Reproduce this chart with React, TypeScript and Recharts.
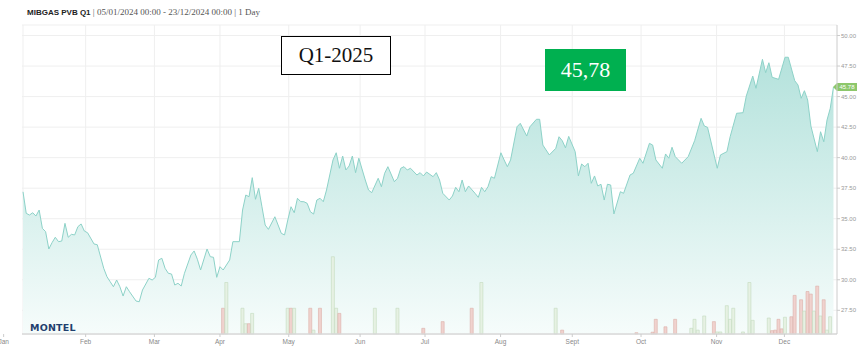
import React from 'react';
import { ComposedChart, Area, Bar, Cell, XAxis, YAxis, CartesianGrid, ReferenceLine } from 'recharts';

// trading-day index (0 = 05/01/2024) and settlement price, EUR/MWh
const priceDays = [
  0, 1, 2, 3, 4, 5, 6, 7, 8, 9, 10, 11, 12, 13, 14, 15, 16, 17, 18, 19, 20, 22, 23, 25, 26, 27, 28, 29, 30,
  31, 32, 33, 35, 36, 37, 39, 40, 41, 42, 43, 44, 45, 46, 47, 48, 49, 50, 52, 53, 54, 55, 57, 58, 59, 60,
  61, 62, 64, 65, 67, 68, 69, 70, 71, 72, 73, 74, 75, 76, 78, 80, 81, 82, 83, 84, 85, 86, 87, 88, 89, 90,
  91, 92, 93, 94, 95, 96, 97, 98, 99, 100, 101, 102, 103, 104, 106, 107, 108, 110, 111, 112, 113, 115,
  116, 117, 118, 119, 120, 122, 123, 124, 125, 127, 128, 129, 130, 132, 133, 134, 135, 136, 137, 138,
  140, 141, 142, 143, 144, 145, 146, 148, 149, 150, 151, 153, 154, 156, 157, 159, 160, 161, 163, 165,
  166, 167, 168, 169, 171, 172, 173, 174, 175, 176, 177, 178, 179, 180, 181, 182, 183, 185, 186, 188,
  189, 191, 192, 194, 195, 196, 198, 199, 200, 201, 202, 204, 206, 208, 210, 211, 212, 215, 216, 218,
  219, 221, 223, 224, 226, 227, 229, 230, 231, 232, 234, 236, 237, 239, 240, 241, 242, 243, 244, 246,
  247, 248, 249, 250, 251,
];
const prices = [
  37.2, 35.44, 35.3, 35.49, 35.22, 35.71, 34.21, 33.94, 32.52, 33.04, 33.48, 33.12, 33.17, 34.62, 33.48,
  33.72, 33.67, 34.35, 34.57, 33.99, 33.85, 32.93, 32.87, 30.94, 30.25, 29.84, 29.43, 29.98, 29.43,
  28.67, 29.43, 29.02, 28.26, 28.2, 29.16, 30.12, 29.98, 30.2, 31.62, 31.76, 30.94, 30.53, 30.47, 29.57,
  29.71, 29.49, 30.53, 32.03, 32.36, 31.68, 30.8, 32.52, 31.89, 31.84, 30.2,
  31.07, 30.8, 31.62, 33.12, 33.12, 35.71, 36.94, 36.8, 38.36, 36.59, 37.49, 35.98, 34.48, 34.13, 35.16,
  33.8, 33.67, 34.89, 35.98, 35.49, 36.67, 36.4, 36.39, 36.26, 35.57, 35.38,
  36.53, 36.67, 36.39, 37.35, 38.58, 39.81, 40.4, 39.13, 40.13, 38.99, 39.32, 40.13, 38.77, 39.95, 38.17,
  37.35, 37.13, 38.31, 37.62, 38.72, 39.26, 38.03,
  38.31, 39.13, 39.26, 38.99, 39.13, 38.58, 38.77, 38.5, 38.82, 38.44, 38.77, 38.17, 37.08, 36.53, 36.86,
  37.57, 37.21, 38.17, 37.21, 37.68,
  37.08, 36.75, 37.57, 37.21, 37.62, 38.44, 38.31, 40.4, 39.81, 39.26, 39.81, 42.53, 42.81, 41.77, 42.53,
  43.14, 43.14, 41.03, 40.22, 40.76,
  41.71, 41.39, 40.8, 41.74, 40.49, 38.5, 39.48, 39.26, 39.54, 37.9, 38.5, 37.68, 37.82, 36.53, 37.82,
  37.76, 35.39, 37.21, 37.08, 38.58,
  38.72, 39.95, 39.54, 41.17, 41.03, 39.81, 39.13, 40.3, 39.95, 40.85, 40.08, 39.54, 40.08, 41.39, 43.22,
  42.59, 42.48, 39.13, 40.22, 40.49,
  41.71, 43.63, 43.68, 45.05, 46.68, 45.68, 48.05, 46.96, 47.77, 46.58, 46.41, 48.22, 48.22, 46.3, 45.95,
  44.86, 45.48, 44.72, 42.59, 40.49,
  42.12, 41.3, 43.08, 44.04, 45.78,
];

// traded volume per day (relative units) and side of the day
const volDays = [
  62, 63, 68, 69, 70, 71, 82, 83, 84, 89, 90, 92, 96, 97, 98, 109, 116, 124, 130, 139, 142, 165, 167,
  190, 195, 196, 199, 202, 207, 208, 209, 211, 214, 215, 216, 218, 219, 220, 223, 225, 226,
  231, 232, 233, 234, 235, 236, 238, 239, 241, 242, 243, 244, 245, 246, 247, 248, 249, 250,
];
const volumes = [
  1, 2, 1, 0.4, 0.4, 0.8, 1, 1, 1, 1, 0.15, 1, 3, 1, 0.8, 1, 1, 0.22, 0.48, 1, 2, 1, 0.15,
  0.05, 0.07, 0.57, 0.28, 0.57, 0.22, 0.57, 0.15, 0.7, 0.48, 0.08, 0.08, 1.1, 0.57, 1, 0.08, 2, 0.53,
  0.62, 0.13, 0.15, 0.57, 0.2, 0.65, 0.67, 1.5, 1.33, 0.89, 1.65, 1.55, 0.89, 1.86, 0.7, 1.33, 0.15, 0.67,
];
const volSides = [
  'r', 'g', 'g', 'g', 'r', 'g', 'g', 'r', 'g', 'r', 'g', 'r', 'g', 'g', 'r', 'g', 'g', 'r', 'r', 'r', 'g', 'g', 'r',
  'r', 'r', 'r', 'r', 'r', 'g', 'g', 'g', 'g', 'r', 'g', 'g', 'g', 'g', 'g', 'g', 'g', 'g',
  'g', 'r', 'r', 'r', 'r', 'g', 'r', 'r', 'r', 'g', 'r', 'r', 'g', 'r', 'g', 'r', 'g', 'g',
];

const monthTicks = [-6, 19.4, 40.7, 61, 82.3, 104.4, 124.5, 147.9, 170.1, 191.4, 214.8, 235.8];
const monthLabels = ['Jan', 'Feb', 'Mar', 'Apr', 'May', 'Jun', 'Jul', 'Aug', 'Sept', 'Oct', 'Nov', 'Dec'];
const priceTicks = [27.5, 30, 32.5, 35, 37.5, 40, 42.5, 45, 47.5, 50];

const titleName = 'MIBGAS PVB Q1';
const titleRange = '| 05/01/2024 00:00 - 23/12/2024 00:00 | 1 Day';
const contractLabel = 'Q1-2025';
const lastPriceLabel = '45,78';
const lastPrice = 45.78;

const X_DOMAIN: [number, number] = [-0.31, 252.09];

type Row = { d: number; price?: number; vol?: number; side?: string };

const rows: Row[] = (() => {
  const m = new Map<number, Row>();
  priceDays.forEach((d, i) => m.set(d, { d, price: prices[i] }));
  volDays.forEach((d, i) => {
    const r = m.get(d) || { d };
    r.vol = volumes[i];
    r.side = volSides[i];
    m.set(d, r);
  });
  return Array.from(m.values()).sort((a, b) => a.d - b.d);
})();

const gridDays = [0, ...monthTicks.filter((t) => t >= 0)];

// map grid days through the same linear x scale as the axis
const verticalGen = (props: any) => {
  const off = (props && props.offset) || {};
  const left = typeof off.left === 'number' ? off.left : 22;
  const width = typeof off.width === 'number' ? off.width : 815;
  const [a, b] = X_DOMAIN;
  return gridDays.map((t) => left + ((t - a) / (b - a)) * width);
};

const PriceTag = (props: any) => {
  const vb = props.viewBox || {};
  const x = (vb.x || 0) + (vb.width || 0);
  const y = vb.y || 0;
  return (
    <g>
      <path d={`M${x - 4},${y} L${x},${y - 4} H${x + 20} V${y + 4} H${x} Z`} fill="#8dc76b" />
      <text x={x + 10} y={y + 2.2} fontSize={6} fill="#ffffff" textAnchor="middle" fontFamily="Liberation Sans, Arial, sans-serif">
        {lastPrice.toFixed(2)}
      </text>
    </g>
  );
};

export default function App() {
  return (
    <div style={{ position: 'absolute', left: 0, top: 0, width: 863, height: 360, background: '#fff', overflow: 'hidden' }}>
      <ComposedChart
        width={863}
        height={360}
        data={rows}
        margin={{ top: 25, right: 0, bottom: 6, left: 22 }}
      >
        <defs>
          <linearGradient id="areaFill" x1="0" y1="0" x2="0" y2="1">
            <stop offset="0%" stopColor="#b4e2dc" />
            <stop offset="100%" stopColor="#f6fcfb" />
          </linearGradient>
        </defs>
        <CartesianGrid yAxisId="price" stroke="#efefef" verticalCoordinatesGenerator={verticalGen} />
        <XAxis
          dataKey="d"
          type="number"
          domain={X_DOMAIN}
          allowDataOverflow
          ticks={monthTicks}
          interval={0}
          tickFormatter={(v: number) => monthLabels[monthTicks.indexOf(v)] || ''}
          tick={{ fontSize: 6.5, fill: '#888', fontFamily: 'Liberation Sans, Arial, sans-serif' }}
          tickLine={{ stroke: '#cccccc' }}
          tickSize={3}
          tickMargin={2}
          axisLine={{ stroke: '#d8d8d8', strokeWidth: 1.5 }}
          height={20}
        />
        <YAxis
          yAxisId="price"
          orientation="right"
          type="number"
          domain={[25.56, 50.86]}
          allowDataOverflow
          ticks={priceTicks}
          interval={0}
          tickFormatter={(v: number) => v.toFixed(2)}
          tick={{ fontSize: 6, fill: '#999', fontFamily: 'Liberation Sans, Arial, sans-serif' }}
          tickLine={{ stroke: '#cccccc' }}
          tickSize={3}
          tickMargin={1}
          axisLine={{ stroke: '#cccccc' }}
          width={26}
        />
        <YAxis yAxisId="vol" hide type="number" domain={[0, 12]} />
        <Area
          yAxisId="price"
          type="linear"
          dataKey="price"
          connectNulls
          stroke="#8dd2c8"
          strokeWidth={1}
          fill="url(#areaFill)"
          fillOpacity={1}
          dot={false}
          activeDot={false}
          isAnimationActive={false}
        />
        <Bar yAxisId="vol" dataKey="vol" barSize={3} isAnimationActive={false}>
          {rows.map((r, i) => (
            <Cell
              key={i}
              fill={r.side === 'r' ? '#f0d2ce' : '#e6f1e3'}
              stroke={r.side === 'r' ? '#dcaea8' : '#c3dabe'}
              strokeWidth={0.6}
            />
          ))}
        </Bar>
        <ReferenceLine yAxisId="price" y={lastPrice} stroke="none" label={<PriceTag />} />
      </ComposedChart>

      <div style={{ position: 'absolute', left: 27, top: 4, whiteSpace: 'nowrap', lineHeight: '12px' }}>
        <span style={{ fontFamily: 'Liberation Sans, Arial, sans-serif', fontWeight: 700, fontSize: 8, color: '#222' }}>{titleName}</span>
        <span style={{ fontFamily: 'Liberation Serif, serif', fontSize: 9, color: '#555' }}> {titleRange}</span>
      </div>

      <div
        style={{
          position: 'absolute', left: 281, top: 36, width: 108, height: 37, border: '1.5px solid #000', background: '#fff',
          display: 'flex', alignItems: 'center', justifyContent: 'center',
          fontFamily: 'Liberation Serif, serif', fontSize: 21, color: '#111',
        }}
      >
        {contractLabel}
      </div>

      <div
        style={{
          position: 'absolute', left: 545, top: 49, width: 81, height: 42, background: '#00b050',
          display: 'flex', alignItems: 'center', justifyContent: 'center',
          fontFamily: 'Liberation Serif, serif', fontSize: 22, color: '#fff',
        }}
      >
        {lastPriceLabel}
      </div>

      <div
        style={{
          position: 'absolute', left: 30, top: 322, fontFamily: 'DejaVu Sans, sans-serif', fontWeight: 700,
          fontSize: 9.5, color: '#1f3f6e', letterSpacing: 0.2, lineHeight: '12px',
        }}
      >
        MONTEL
      </div>
    </div>
  );
}
